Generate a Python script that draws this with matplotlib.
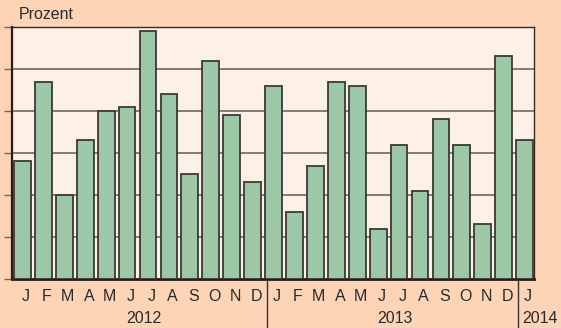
import matplotlib
matplotlib.use('Agg')
import matplotlib.pyplot as plt

plt.rcParams['font.family'] = ['Liberation Sans', 'DejaVu Sans']

# Monatswerte Jan 2012 .. Jan 2014
months = ['J', 'F', 'M', 'A', 'M', 'J', 'J', 'A', 'S', 'O', 'N', 'D',
          'J', 'F', 'M', 'A', 'M', 'J', 'J', 'A', 'S', 'O', 'N', 'D',
          'J']
values = [2.8, 4.7, 2.0, 3.3, 4.0, 4.1, 5.9, 4.4, 2.5, 5.2, 3.9, 2.3,
          4.6, 1.6, 2.7, 4.7, 4.6, 1.2, 3.2, 2.1, 3.8, 3.2, 1.3, 5.3,
          3.3]
years = ['2012', '2013', '2014']
year_start = [0, 12, 24]

FIG_BG = '#fed4b7'
AX_BG = '#fdf0e6'
BAR = '#9cc8a7'
EDGE = '#3a3a36'
DARK = '#2b1d14'
TXT = '#2a2a2a'

fig = plt.figure(figsize=(5.61, 3.28), dpi=100, facecolor=FIG_BG)
ax = fig.add_axes([0.0214, 0.1494, 0.9305, 0.7683])
ax.set_facecolor(AX_BG)

x = list(range(len(values)))
ax.bar(x, values, width=0.8, color=BAR, edgecolor=EDGE, linewidth=1.3, zorder=3)

ax.set_xlim(-0.5, 24.45)
ax.set_ylim(0, 6)
ax.set_yticks(range(0, 7))
ax.set_yticklabels([])
ax.yaxis.grid(True, color='#74665d', lw=1.2, zorder=1)
ax.set_axisbelow(True)
ax.tick_params(axis='y', length=6, width=1, color='#74665d', pad=0)
ax.set_xticks([])

for side in ['top', 'right']:
    ax.spines[side].set_linewidth(1.0)
    ax.spines[side].set_color('#3a2a20')
ax.spines['left'].set_linewidth(1.6)
ax.spines['left'].set_color(DARK)
ax.spines['bottom'].set_linewidth(2.0)
ax.spines['bottom'].set_color(DARK)

# Monatsbuchstaben und Jahreszahlen unter der Achse
tr = ax.get_xaxis_transform()
for i, m in enumerate(months):
    ax.text(i + 0.17, -0.071, m, transform=tr, ha='center', va='center',
            fontsize=11.5, color=TXT)

for k, (yr, s) in enumerate(zip(years, year_start)):
    n = 12 if k < len(years) - 1 else 1
    xc = s + (n - 1) / 2 + 0.3
    if n == 1:
        xc = s + 0.75
    ax.text(xc, -0.155, yr, transform=tr, ha='center', va='center',
            fontsize=11.5, color=TXT)
    if s > 0:
        ax.plot([s - 0.33, s - 0.33], [0, -0.21], transform=tr, color='#333333',
                lw=1.0, clip_on=False)

fig.text(0.034, 0.957, 'Prozent', ha='left', va='center', fontsize=11.5,
         color=TXT)

fig.savefig('out.png', dpi=100, facecolor=FIG_BG)
